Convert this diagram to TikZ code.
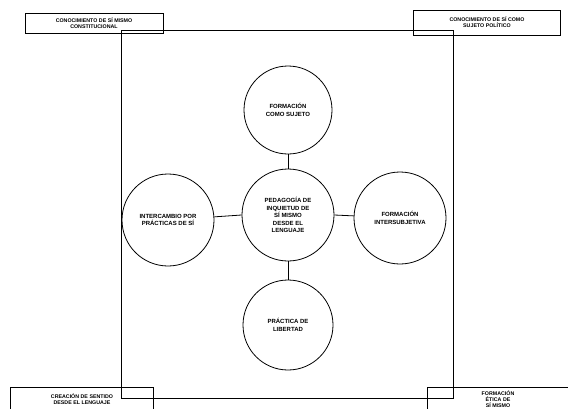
\documentclass[tikz,border=0pt]{standalone}
\usepackage{fontspec}
\setmainfont{Liberation Sans}
\begin{document}
\begin{tikzpicture}[x=1pt,y=-1pt,
  circ/.style={draw, circle, line width=0.8pt, minimum size=#1, inner sep=0pt, align=center, font=\fontsize{6}{7.6}\selectfont\bfseries},
  cbox/.style={draw, line width=1pt, align=center, font=\fontsize{5.3}{6.2}\selectfont\bfseries, inner sep=0pt},
  frame/.style={line width=1pt},
  link/.style={line width=0.8pt}]
\useasboundingbox (0,0) rectangle (568,408);
\draw[frame] (121,30) -- (453,30) -- (453,398) -- (121,398) -- cycle;
\node[cbox, minimum width=138, minimum height=20] (tl) at (94,23) {CONOCIMIENTO DE SÍ MISMO\\CONSTITUCIONAL};
\node[cbox, minimum width=147, minimum height=25] (tr) at (487,22.5) {CONOCIMIENTO DE SÍ COMO\\SUJETO POLÍTICO};
\node[cbox, minimum width=143, minimum height=24] (bl) at (82,399) {CREACIÓN DE SENTIDO\\DESDE EL LENGUAJE};
\node[cbox, minimum width=142, minimum height=24] (br) at (498,399) {FORMACIÓN\\ÉTICA DE\\SÍ MISMO};
\node[circ=92] (c) at (288,215) {PEDAGOGÍA DE\\INQUIETUD DE\\SÍ MISMO\\DESDE EL\\LENGUAJE};
\node[circ=88] (t) at (288,110) {FORMACIÓN\\COMO SUJETO};
\node[circ=92] (l) at (168,220) {INTERCAMBIO POR\\PRÁCTICAS DE SÍ};
\node[circ=92] (r) at (400,218) {FORMACIÓN\\INTERSUBJETIVA};
\node[circ=90] (b) at (288,325) {PRÁCTICA DE\\LIBERTAD};
\draw[link] (c) -- (t);
\draw[link] (c) -- (b);
\draw[link] (c.west) -- (l);
\draw[link] (c.east) -- (r);
\end{tikzpicture}
\end{document}
